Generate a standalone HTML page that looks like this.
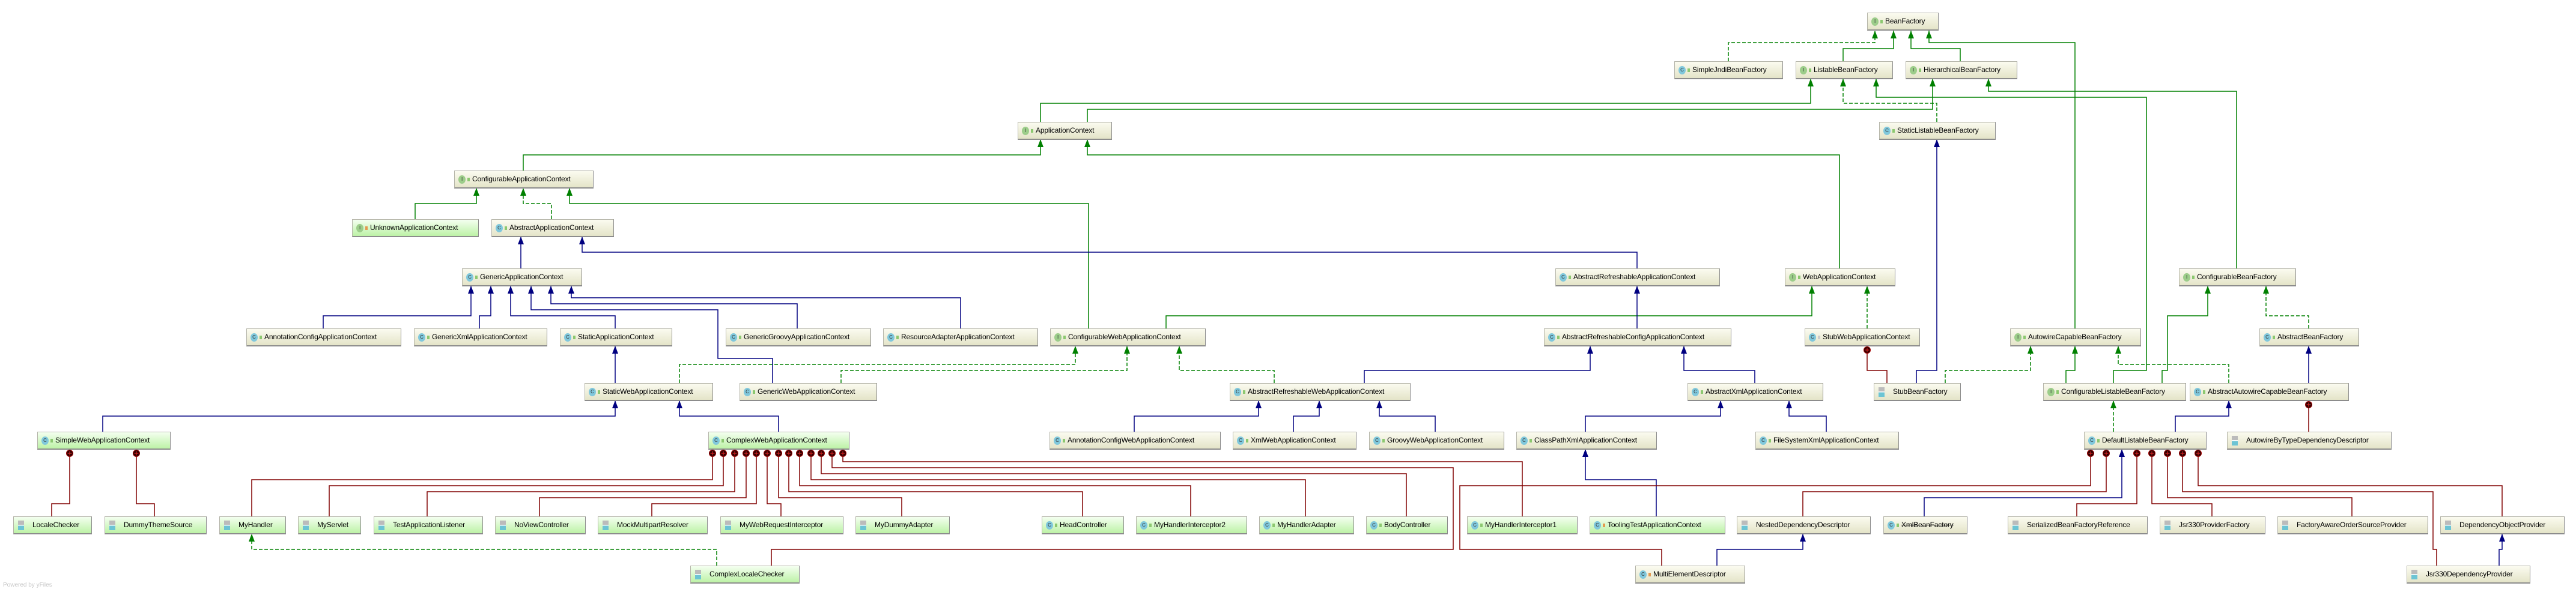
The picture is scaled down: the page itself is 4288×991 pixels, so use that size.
<!DOCTYPE html>
<html><head><meta charset="utf-8"><style>
html,body{margin:0;padding:0;background:#fff;}
body{width:4288px;height:991px;position:relative;overflow:hidden;font-family:"Liberation Sans",sans-serif;}
svg{position:absolute;left:0;top:0;}
.n{position:absolute;height:27px;border:1px solid #b4b4a8;border-right-color:#8c8c8c;border-bottom:2px solid #8c8c8c;background:linear-gradient(#fbfbf0,#e4e4c8);font-size:12px;letter-spacing:-0.15px;line-height:26px;white-space:nowrap;overflow:hidden;color:#000;box-sizing:content-box;}
.g{background:linear-gradient(#f4fff0,#bdf2a6);}
.n i{display:inline-block;width:12px;height:14px;border-radius:50%;font-style:normal;font-size:8px;line-height:14px;text-align:center;margin:0 3px 0 6px;vertical-align:middle;color:#333;}
.n i.c{background:#80c8dc;}
.n i.f{background:#9ccd8a;}
.n b{display:inline-block;width:4px;height:6px;background:#8cc870;margin-right:4px;vertical-align:middle;}
.n b.o{background:#e49a50;}
.n u{display:inline-block;width:10px;height:16px;margin:0 14px 0 7px;vertical-align:middle;background:linear-gradient(#bbb 0,#bbb 45%,#fff 45%,#fff 52%,#6cc4d4 52%);}
.s{text-decoration:line-through;}
.wm{position:absolute;left:5px;top:969px;font-size:10px;color:#c8c8c8;}
</style></head><body>
<svg width="4288" height="991" viewBox="0 0 4288 991">
<defs>
<marker id="ag" markerUnits="userSpaceOnUse" markerWidth="14" markerHeight="12" refX="13" refY="5" orient="auto"><path d="M0,0 L13,5 L0,10 z" fill="#008000"/></marker>
<marker id="ab" markerUnits="userSpaceOnUse" markerWidth="14" markerHeight="12" refX="13" refY="5" orient="auto"><path d="M0,0 L13,5 L0,10 z" fill="#000080"/></marker>
<marker id="cr" markerUnits="userSpaceOnUse" markerWidth="14" markerHeight="14" refX="0" refY="7" orient="auto"><circle cx="7" cy="7" r="5.5" fill="#300000" stroke="#a00000" stroke-width="1"/><path d="M3.5,7 H10.5 M7,3.5 V10.5" stroke="#d02020" stroke-width="1.2"/></marker>
</defs>
<g fill="none" stroke="#008000" stroke-width="1.5" marker-end="url(#ag)">
<polyline points="3068,102 3068,81 3152,81 3152,51"/>
<polyline points="3263,102 3263,81 3181,81 3181,51"/>
<polyline points="1732,203 1732,172 3014,172 3014,131"/>
<polyline points="1810,203 1810,182 3217,182 3217,131"/>
<polyline points="3518,638 3518,617 3573,617 3573,162 3123,162 3123,131"/>
<polyline points="3723,447 3723,152 3310,152 3310,131"/>
<polyline points="3454,547 3454,71 3211,71 3211,51"/>
<polyline points="1941,547 1941,526 3016,526 3016,476"/>
<polyline points="3062,447 3062,258 1810,258 1810,232"/>
<polyline points="871,284 871,258 1732,258 1732,232"/>
<polyline points="1812,547 1812,339 948,339 948,313"/>
<polyline points="691,365 691,339 793,339 793,313"/>
<polyline points="3599,638 3599,617 3608,617 3608,526 3675,526 3675,476"/>
<polyline points="3439,638 3439,617 3454,617 3454,576"/>
</g>
<g fill="none" stroke="#008000" stroke-width="1.5" stroke-dasharray="6,3" marker-end="url(#ag)">
<polyline points="2877,102 2877,71 3121,71 3121,51"/>
<polyline points="3224,203 3224,172 3068,172 3068,131"/>
<polyline points="918,365 918,339 871,339 871,313"/>
<polyline points="3108,547 3108,476"/>
<polyline points="1131,638 1131,607 1790,607 1790,576"/>
<polyline points="1400,638 1400,617 1876,617 1876,576"/>
<polyline points="2121,638 2121,617 1963,617 1963,576"/>
<polyline points="3518,719 3518,667"/>
<polyline points="3843,547 3843,526 3772,526 3772,476"/>
<polyline points="3710,638 3710,607 3526,607 3526,576"/>
<polyline points="3238,638 3238,617 3380,617 3380,576"/>
<polyline points="1193,942 1193,915 419,915 419,889"/>
</g>
<g fill="none" stroke="#000080" stroke-width="1.5" marker-end="url(#ab)">
<polyline points="3190,638 3190,617 3224,617 3224,232"/>
<polyline points="867,447 867,394"/>
<polyline points="2725,447 2725,420 969,420 969,394"/>
<polyline points="2725,547 2725,476"/>
<polyline points="538,547 538,526 784,526 784,476"/>
<polyline points="798,547 798,526 817,526 817,476"/>
<polyline points="1024,547 1024,526 850,526 850,476"/>
<polyline points="1286,638 1286,597 1195,597 1195,516 884,516 884,476"/>
<polyline points="1327,547 1327,506 917,506 917,476"/>
<polyline points="1599,547 1599,496 951,496 951,476"/>
<polyline points="1024,638 1024,576"/>
<polyline points="171,719 171,693 1024,693 1024,667"/>
<polyline points="2271,638 2271,617 2647,617 2647,576"/>
<polyline points="2921,638 2921,617 2803,617 2803,576"/>
<polyline points="1296,719 1296,693 1131,693 1131,667"/>
<polyline points="1888,719 1888,693 2095,693 2095,667"/>
<polyline points="2153,719 2153,693 2196,693 2196,667"/>
<polyline points="2389,719 2389,693 2296,693 2296,667"/>
<polyline points="2639,719 2639,693 2864,693 2864,667"/>
<polyline points="3040,719 3040,693 2978,693 2978,667"/>
<polyline points="2757,860 2757,799 2639,799 2639,748"/>
<polyline points="2858,942 2858,915 3001,915 3001,889"/>
<polyline points="3203,860 3203,829 3532,829 3532,748"/>
<polyline points="3621,719 3621,693 3710,693 3710,667"/>
<polyline points="3843,638 3843,576"/>
<polyline points="4160,942 4160,915 4165,915 4165,889"/>
</g>
<g fill="none" stroke="#800000" stroke-width="1.5" marker-start="url(#cr)">
<polyline points="3108,576 3108,617 3141,617 3141,638"/>
<polyline points="3843,667 3843,719"/>
<polyline points="116,748 116,839 86,839 86,860"/>
<polyline points="227,748 227,839 257,839 257,860"/>
<polyline points="1186,748 1186,799 419,799 419,860"/>
<polyline points="1204,748 1204,809 548,809 548,860"/>
<polyline points="1223,748 1223,819 711,819 711,860"/>
<polyline points="1242,748 1242,829 898,829 898,860"/>
<polyline points="1259,748 1259,839 1085,839 1085,860"/>
<polyline points="1277,748 1277,839 1300,839 1300,860"/>
<polyline points="1296,748 1296,829 1501,829 1501,860"/>
<polyline points="1313,748 1313,819 1802,819 1802,860"/>
<polyline points="1331,748 1331,809 1982,809 1982,860"/>
<polyline points="1350,748 1350,799 2173,799 2173,860"/>
<polyline points="1367,748 1367,789 2341,789 2341,860"/>
<polyline points="1385,748 1385,779 2419,779 2419,915 1284,915 1284,942"/>
<polyline points="1403,748 1403,769 2534,769 2534,860"/>
<polyline points="3480,748 3480,809 2430,809 2430,915 2766,915 2766,942"/>
<polyline points="3506,748 3506,819 3001,819 3001,860"/>
<polyline points="3557,748 3557,839 3457,839 3457,860"/>
<polyline points="3582,748 3582,839 3682,839 3682,860"/>
<polyline points="3608,748 3608,829 3915,829 3915,860"/>
<polyline points="3633,748 3633,819 4050,819 4050,915 4056,915 4056,942"/>
<polyline points="3659,748 3659,809 4165,809 4165,860"/>
</g>
</svg>

<div class="n" style="left:3108px;top:21px;width:117px"><i class="f">I</i><b></b>BeanFactory</div>
<div class="n" style="left:2787px;top:102px;width:179px"><i class="c">C</i><b></b>SimpleJndiBeanFactory</div>
<div class="n" style="left:2989px;top:102px;width:160px"><i class="f">I</i><b></b>ListableBeanFactory</div>
<div class="n" style="left:3172px;top:102px;width:184px"><i class="f">I</i><b></b>HierarchicalBeanFactory</div>
<div class="n" style="left:1694px;top:203px;width:155px"><i class="f">I</i><b></b>ApplicationContext</div>
<div class="n" style="left:3128px;top:203px;width:192px"><i class="c">C</i><b></b>StaticListableBeanFactory</div>
<div class="n" style="left:756px;top:284px;width:230px"><i class="f">I</i><b></b>ConfigurableApplicationContext</div>
<div class="n g" style="left:586px;top:365px;width:209px"><i class="f">I</i><b class="o"></b>UnknownApplicationContext</div>
<div class="n" style="left:818px;top:365px;width:202px"><i class="c">C</i><b></b>AbstractApplicationContext</div>
<div class="n" style="left:769px;top:447px;width:198px"><i class="c">C</i><b></b>GenericApplicationContext</div>
<div class="n" style="left:2589px;top:447px;width:272px"><i class="c">C</i><b></b>AbstractRefreshableApplicationContext</div>
<div class="n" style="left:2971px;top:447px;width:182px"><i class="f">I</i><b></b>WebApplicationContext</div>
<div class="n" style="left:3627px;top:447px;width:193px"><i class="f">I</i><b></b>ConfigurableBeanFactory</div>
<div class="n" style="left:410px;top:547px;width:256px"><i class="c">C</i><b></b>AnnotationConfigApplicationContext</div>
<div class="n" style="left:689px;top:547px;width:220px"><i class="c">C</i><b></b>GenericXmlApplicationContext</div>
<div class="n" style="left:932px;top:547px;width:185px"><i class="c">C</i><b></b>StaticApplicationContext</div>
<div class="n" style="left:1208px;top:547px;width:240px"><i class="c">C</i><b></b>GenericGroovyApplicationContext</div>
<div class="n" style="left:1470px;top:547px;width:256px"><i class="c">C</i><b></b>ResourceAdapterApplicationContext</div>
<div class="n" style="left:1748px;top:547px;width:257px"><i class="f">I</i><b></b>ConfigurableWebApplicationContext</div>
<div class="n" style="left:2570px;top:547px;width:310px"><i class="c">C</i><b></b>AbstractRefreshableConfigApplicationContext</div>
<div class="n" style="left:3004px;top:547px;width:190px"><i class="c">C</i><b style="background:#ccc"></b>StubWebApplicationContext</div>
<div class="n" style="left:3346px;top:547px;width:216px"><i class="f">I</i><b></b>AutowireCapableBeanFactory</div>
<div class="n" style="left:3761px;top:547px;width:164px"><i class="c">C</i><b></b>AbstractBeanFactory</div>
<div class="n" style="left:973px;top:638px;width:212px"><i class="c">C</i><b></b>StaticWebApplicationContext</div>
<div class="n" style="left:1231px;top:638px;width:227px"><i class="c">C</i><b></b>GenericWebApplicationContext</div>
<div class="n" style="left:2047px;top:638px;width:299px"><i class="c">C</i><b></b>AbstractRefreshableWebApplicationContext</div>
<div class="n" style="left:2809px;top:638px;width:224px"><i class="c">C</i><b></b>AbstractXmlApplicationContext</div>
<div class="n" style="left:3119px;top:638px;width:143px"><u></u>StubBeanFactory</div>
<div class="n" style="left:3401px;top:638px;width:236px"><i class="f">I</i><b></b>ConfigurableListableBeanFactory</div>
<div class="n" style="left:3645px;top:638px;width:263px"><i class="c">C</i><b></b>AbstractAutowireCapableBeanFactory</div>
<div class="n g" style="left:62px;top:719px;width:220px"><i class="c">C</i><b></b>SimpleWebApplicationContext</div>
<div class="n g" style="left:1179px;top:719px;width:233px"><i class="c">C</i><b></b>ComplexWebApplicationContext</div>
<div class="n" style="left:1747px;top:719px;width:283px"><i class="c">C</i><b></b>AnnotationConfigWebApplicationContext</div>
<div class="n" style="left:2052px;top:719px;width:204px"><i class="c">C</i><b></b>XmlWebApplicationContext</div>
<div class="n" style="left:2279px;top:719px;width:223px"><i class="c">C</i><b></b>GroovyWebApplicationContext</div>
<div class="n" style="left:2524px;top:719px;width:232px"><i class="c">C</i><b></b>ClassPathXmlApplicationContext</div>
<div class="n" style="left:2922px;top:719px;width:237px"><i class="c">C</i><b></b>FileSystemXmlApplicationContext</div>
<div class="n" style="left:3469px;top:719px;width:202px"><i class="c">C</i><b></b>DefaultListableBeanFactory</div>
<div class="n" style="left:3707px;top:719px;width:272px"><u></u>AutowireByTypeDependencyDescriptor</div>
<div class="n g" style="left:22px;top:860px;width:129px"><u></u>LocaleChecker</div>
<div class="n g" style="left:174px;top:860px;width:168px"><u></u>DummyThemeSource</div>
<div class="n g" style="left:365px;top:860px;width:109px"><u></u>MyHandler</div>
<div class="n g" style="left:496px;top:860px;width:103px"><u></u>MyServlet</div>
<div class="n g" style="left:622px;top:860px;width:180px"><u></u>TestApplicationListener</div>
<div class="n g" style="left:824px;top:860px;width:149px"><u></u>NoViewController</div>
<div class="n g" style="left:995px;top:860px;width:181px"><u></u>MockMultipartResolver</div>
<div class="n g" style="left:1199px;top:860px;width:203px"><u></u>MyWebRequestInterceptor</div>
<div class="n g" style="left:1424px;top:860px;width:155px"><u></u>MyDummyAdapter</div>
<div class="n g" style="left:1734px;top:860px;width:135px"><i class="c">C</i><b></b>HeadController</div>
<div class="n g" style="left:1891px;top:860px;width:183px"><i class="c">C</i><b></b>MyHandlerInterceptor2</div>
<div class="n g" style="left:2096px;top:860px;width:156px"><i class="c">C</i><b></b>MyHandlerAdapter</div>
<div class="n g" style="left:2274px;top:860px;width:134px"><i class="c">C</i><b></b>BodyController</div>
<div class="n g" style="left:2442px;top:860px;width:182px"><i class="c">C</i><b></b>MyHandlerInterceptor1</div>
<div class="n g" style="left:2646px;top:860px;width:224px"><i class="c">C</i><b class="o"></b>ToolingTestApplicationContext</div>
<div class="n" style="left:2891px;top:860px;width:221px"><u></u>NestedDependencyDescriptor</div>
<div class="n" style="left:3135px;top:860px;width:138px"><i class="c">C</i><b></b><span class="s">XmlBeanFactory</span></div>
<div class="n" style="left:3342px;top:860px;width:231px"><u></u>SerializedBeanFactoryReference</div>
<div class="n" style="left:3595px;top:860px;width:174px"><u></u>Jsr330ProviderFactory</div>
<div class="n" style="left:3791px;top:860px;width:249px"><u></u>FactoryAwareOrderSourceProvider</div>
<div class="n" style="left:4062px;top:860px;width:205px"><u></u>DependencyObjectProvider</div>
<div class="n g" style="left:1149px;top:942px;width:180px"><u></u>ComplexLocaleChecker</div>
<div class="n" style="left:2722px;top:942px;width:181px"><i class="c">C</i><b class="o"></b>MultiElementDescriptor</div>
<div class="n" style="left:4006px;top:942px;width:204px"><u></u>Jsr330DependencyProvider</div>
<div class="wm">Powered by yFiles</div>
</body></html>
